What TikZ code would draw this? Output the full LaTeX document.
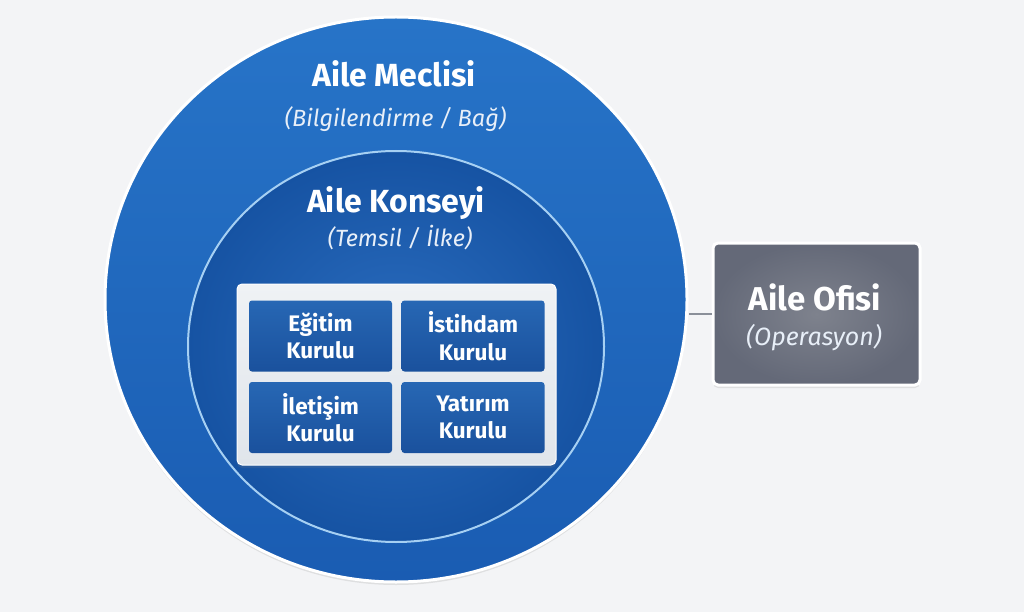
\documentclass[tikz,border=0pt]{standalone}
\usepackage{fontspec}
\setmainfont{Fira Sans}
\usetikzlibrary{shapes.geometric,shadows}
\definecolor{bg}{HTML}{F3F4F6}
\definecolor{outerTop}{HTML}{2774C8}
\definecolor{outerBot}{HTML}{1A5CB2}
\definecolor{innerIn}{HTML}{2A6CBE}
\definecolor{innerOut}{HTML}{1653A3}
\definecolor{innerLine}{HTML}{A6D0F3}
\definecolor{boxTop}{HTML}{2767B4}
\definecolor{boxBot}{HTML}{1A519D}
\definecolor{panelTop}{HTML}{EFF2F5}
\definecolor{panelBot}{HTML}{E0E5EB}
\definecolor{grayEdge}{HTML}{646978}
\definecolor{grayMid}{HTML}{7E828D}
\definecolor{connCol}{HTML}{8A8F99}
\definecolor{subCol}{HTML}{E8EFF8}
\tikzset{
  softshadow/.style={drop shadow={opacity=0.18, shadow xshift=0pt, shadow yshift=-3pt}},
  titletext/.style={text=white, font=\bfseries\fontsize{32}{38}\selectfont, anchor=base, inner sep=0},
  subtext/.style={text=subCol, font=\itshape\fontsize{23.5}{28}\selectfont, anchor=base, inner sep=0},
  kurulbox/.style={rectangle, rounded corners=3pt, minimum width=143pt, minimum height=71pt,
    inner sep=0, top color=boxTop, bottom color=boxBot, text=white, align=center,
    font=\bfseries\fontsize{22.5}{27.5}\selectfont},
  conn/.style={draw=connCol, line width=1.5pt}
}
\begin{document}
\begin{tikzpicture}[x=1pt,y=-1pt]
\useasboundingbox (0,0) rectangle (1024,612);
\fill[bg] (0,0) rectangle (1024,612);

% outer circle
\node[ellipse, minimum width=582pt, minimum height=565pt, inner sep=0, draw=white, line width=3pt,
  top color=outerTop, bottom color=outerBot, softshadow] (meclis) at (396,299.5) {};
% inner circle
\node[ellipse, minimum width=416pt, minimum height=391pt, inner sep=0, draw=innerLine, line width=2pt,
  inner color=innerIn, outer color=innerOut] (konsey) at (396,346.5) {};

% titles
\node[titletext] (t1) at (394,87) {Aile Meclisi};
\node[subtext] (s1) at (395.5,127) {(Bilgilendirme / Bağ)};
\node[titletext] (t2) at (396,213) {Aile Konseyi};
\node[subtext] (s2) at (400,247) {(Temsil / İlke)};

% panel
\node[rectangle, rounded corners=5pt, minimum width=319pt, minimum height=181pt, inner sep=0,
  top color=panelTop, bottom color=panelBot, draw=white, line width=1pt, softshadow] (panel) at (396.5,374.5) {};
\node[kurulbox] (b1) at (320.5,336) {Eğitim\\Kurulu};
\node[kurulbox] (b2) at (473,336) {İstihdam\\Kurulu};
\node[kurulbox] (b3) at (320.5,417.5) {İletişim\\Kurulu};
\node[kurulbox] (b4) at (473,417.5) {Yatırım\\Kurulu};

% office
\node[rectangle, rounded corners=5pt, minimum width=207pt, minimum height=142pt, inner sep=0,
  draw=white, line width=3pt, inner color=grayMid, outer color=grayEdge,
  softshadow] (ofis) at (816.5,314) {};
\node[titletext, font=\bfseries\fontsize{33}{39}\selectfont] (t3) at (815,310) {Aile Ofisi};
\node[subtext, font=\itshape\fontsize{25}{30}\selectfont] (s3) at (814,345) {(Operasyon)};

\draw[conn] (ofis.west) -- (ofis.west -| meclis.east);
\end{tikzpicture}
\end{document}
